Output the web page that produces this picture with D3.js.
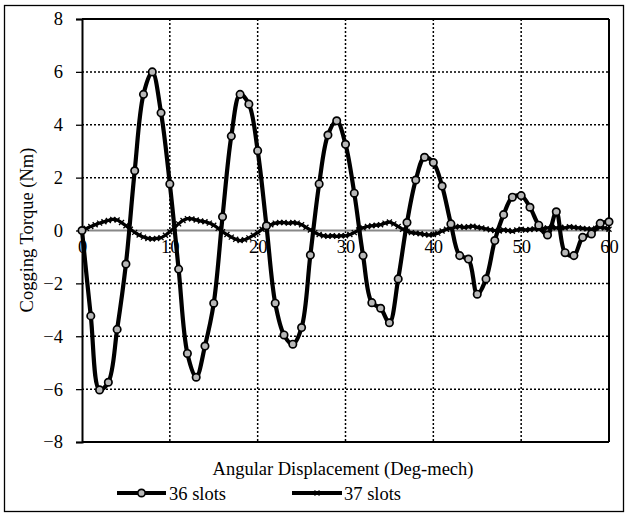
<!DOCTYPE html>
<html>
<head>
<meta charset="utf-8">
<script src="https://cdn.jsdelivr.net/npm/d3@7"></script>
<style>
  html, body { margin: 0; padding: 0; background: #fff; }
  svg { display: block; }
  text { font-family: "Liberation Serif", "Times New Roman", serif; fill: #000; }
</style>
</head>
<body>
<svg id="chart" width="628" height="517"></svg>
<script>
// ---- data ----
const xTicks = [0, 10, 20, 30, 40, 50, 60];
const yTicks = [-8, -6, -4, -2, 0, 2, 4, 6, 8];

const angles36 = d3.range(0, 61, 1);
const torque36 = [
  0, -3.23, -6.03, -5.74, -3.74, -1.27, 2.26, 5.15, 6.0, 4.45,
  1.76, -1.46, -4.65, -5.55, -4.37, -2.75, 0.52, 3.57, 5.15, 4.78,
  3.02, 0.18, -2.75, -3.95, -4.3, -3.67, -0.93, 1.76, 3.61, 4.15,
  3.26, 1.41, -0.95, -2.73, -2.94, -3.49, -1.83, 0.3, 1.91, 2.77,
  2.57, 1.68, 0.25, -0.95, -1.08, -2.41, -1.83, -0.38, 0.6, 1.26,
  1.32, 0.88, 0.2, -0.17, 0.71, -0.84, -0.95, -0.26, -0.13, 0.27,
  0.33
];

const angles37 = d3.range(0, 60.01, 0.5);
const torque37 = [
  0, 0.08, 0.15, 0.22, 0.28, 0.33, 0.38, 0.42, 0.4, 0.3,
  0.18, 0.05, -0.07, -0.17, -0.25, -0.3, -0.32, -0.3, -0.27, -0.18,
  -0.05, 0.1, 0.25, 0.38, 0.45, 0.44, 0.4, 0.36, 0.33, 0.28,
  0.2, 0.08, -0.05, -0.15, -0.25, -0.33, -0.38, -0.35, -0.28, -0.18,
  -0.08, 0.05, 0.15, 0.22, 0.28, 0.3, 0.3, 0.28, 0.3, 0.28,
  0.22, 0.12, 0.02, -0.08, -0.15, -0.2, -0.22, -0.2, -0.22, -0.2,
  -0.2, -0.15, -0.08, 0.02, 0.1, 0.15, 0.18, 0.2, 0.22, 0.28,
  0.32, 0.25, 0.15, 0.05, -0.03, -0.08, -0.1, -0.12, -0.15, -0.17,
  -0.15, -0.1, -0.02, 0.05, 0.1, 0.13, 0.15, 0.12, 0.14, 0.16,
  0.12, 0.1, 0.06, 0.03, 0, -0.02, 0.02, 0.0, -0.03, 0.02,
  0.05, 0.02, 0.04, 0.06, 0.05, 0.08, 0.1, 0.12, 0.1, 0.12,
  0.1, 0.14, 0.12, 0.1, 0.08, 0.06, 0.05, 0.08, 0.12, 0.1,
  0.05
];

const seriesNames = ["36 slots", "37 slots"];
const xTitle = "Angular Displacement (Deg-mech)";
const yTitle = "Cogging Torque (Nm)";

// ---- layout ----
const svg = d3.select("#chart");
const pLeft = 82, pRight = 609, pTop = 19, pBottom = 442;
const x = d3.scaleLinear().domain([0, 60]).range([pLeft, pRight]);
const y = d3.scaleLinear().domain([-8, 8]).range([pBottom, pTop]);
const FS = 18.5;

// outer border
svg.append("rect").attr("x", 4.5).attr("y", 5.5).attr("width", 619).attr("height", 506)
  .attr("fill", "none").attr("stroke", "#000").attr("stroke-width", 1.3);

// gridlines
const g = svg.append("g");
g.selectAll("line.vg").data(xTicks.filter(d => d > 0 && d < 60)).enter().append("line")
  .attr("x1", d => x(d)).attr("x2", d => x(d)).attr("y1", y(8)).attr("y2", y(-8))
  .attr("stroke", "#000").attr("stroke-width", 1.5).attr("stroke-dasharray", "2,2");
g.selectAll("line.hg").data(yTicks.filter(d => d !== 0 && Math.abs(d) < 8)).enter().append("line")
  .attr("x1", x(0)).attr("x2", x(60)).attr("y1", d => y(d)).attr("y2", d => y(d))
  .attr("stroke", "#000").attr("stroke-width", 1.5).attr("stroke-dasharray", "2,2");

// plot frame
svg.append("line").attr("x1", x(0)).attr("x2", x(60)).attr("y1", y(8)).attr("y2", y(8))
  .attr("stroke", "#000").attr("stroke-width", 2);
svg.append("line").attr("x1", x(0)).attr("x2", x(60)).attr("y1", y(-8)).attr("y2", y(-8))
  .attr("stroke", "#000").attr("stroke-width", 2);
svg.append("line").attr("x1", x(60)).attr("x2", x(60)).attr("y1", y(8)).attr("y2", y(-8))
  .attr("stroke", "#000").attr("stroke-width", 2);

// zero line (x axis)
svg.append("line").attr("x1", x(0)).attr("x2", x(60)).attr("y1", y(0)).attr("y2", y(0))
  .attr("stroke", "#888").attr("stroke-width", 2);

// y axis
const yAxis = d3.axisLeft(y).tickValues(yTicks).tickSize(6).tickPadding(13).tickFormat(d3.format("d"));
const ya = svg.append("g").attr("transform", `translate(${x(0)},0)`).call(yAxis);
ya.select(".domain").attr("stroke", "#000").attr("stroke-width", 2);
ya.selectAll(".tick line").attr("stroke", "#000").attr("stroke-width", 1.3);
ya.selectAll(".tick text").style("font-size", FS + "px").style("font-family", "Liberation Serif").attr("fill", "#000");

// x tick labels (below zero line)
const xAxis = d3.axisBottom(x).tickValues(xTicks).tickSize(0).tickPadding(9).tickFormat(d3.format("d"));
const xa = svg.append("g").attr("transform", `translate(0,${y(0)})`).call(xAxis);
xa.select(".domain").remove();
xa.selectAll(".tick text").style("font-size", FS + "px").style("font-family", "Liberation Serif").attr("fill", "#000");

// series
const line = d3.line().x(d => x(d[0])).y(d => y(d[1])).curve(d3.curveCatmullRom.alpha(0.5));
const data37 = angles37.map((a, i) => [a, torque37[i]]);
const data36 = angles36.map((a, i) => [a, torque36[i]]);

svg.append("path").datum(data37).attr("d", line).attr("fill", "none")
  .attr("stroke", "#000").attr("stroke-width", 3.2);
const xm = 2.5;
svg.append("g").selectAll("path").data(data37).enter().append("path")
  .attr("d", d => { const cx = x(d[0]), cy = y(d[1]);
    return `M${cx-xm},${cy-xm}L${cx+xm},${cy+xm}M${cx-xm},${cy+xm}L${cx+xm},${cy-xm}`; })
  .attr("stroke", "#000").attr("stroke-width", 1.3);

svg.append("path").datum(data36).attr("d", line).attr("fill", "none")
  .attr("stroke", "#000").attr("stroke-width", 4.2);
svg.append("g").selectAll("circle").data(data36).enter().append("circle")
  .attr("cx", d => x(d[0])).attr("cy", d => y(d[1])).attr("r", 3.7)
  .attr("fill", "#b8b8b8").attr("stroke", "#000").attr("stroke-width", 1.7);

// axis titles
svg.append("text").attr("x", 343).attr("y", 475).attr("text-anchor", "middle")
  .style("font-size", FS + "px").text(xTitle);
svg.append("text").attr("transform", "translate(33,230) rotate(-90)").attr("text-anchor", "middle")
  .style("font-size", FS + "px").text(yTitle);

// legend
const leg = [
  {name: seriesNames[0], x1: 117, x2: 166, tx: 169, marker: "circle"},
  {name: seriesNames[1], x1: 292, x2: 342, tx: 344, marker: "x"}
];
const lg = svg.append("g");
leg.forEach(l => {
  lg.append("line").attr("x1", l.x1).attr("x2", l.x2).attr("y1", 493).attr("y2", 493)
    .attr("stroke", "#000").attr("stroke-width", 4);
  const cx = (l.x1 + l.x2) / 2;
  if (l.marker === "circle") {
    lg.append("circle").attr("cx", cx).attr("cy", 493).attr("r", 3.7)
      .attr("fill", "#b8b8b8").attr("stroke", "#000").attr("stroke-width", 1.7);
  } else {
    lg.append("path").attr("d", `M${cx-xm},${493-xm}L${cx+xm},${493+xm}M${cx-xm},${493+xm}L${cx+xm},${493-xm}`)
      .attr("stroke", "#000").attr("stroke-width", 1.3);
  }
  lg.append("text").attr("x", l.tx).attr("y", 500).style("font-size", FS + "px").text(l.name);
});
</script>
</body>
</html>
